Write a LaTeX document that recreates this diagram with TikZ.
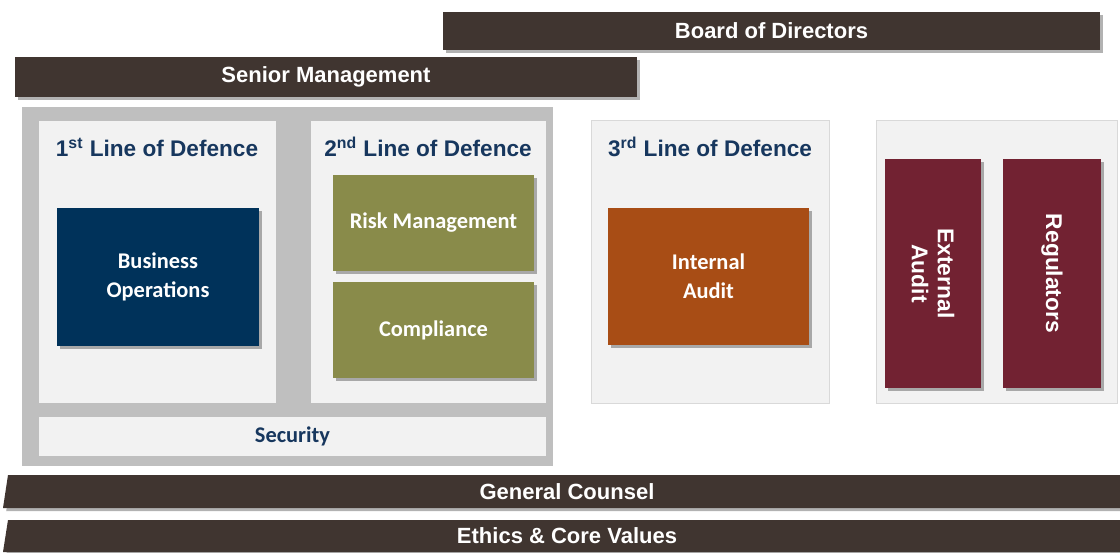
\documentclass[tikz,border=0pt]{standalone}
\usepackage{fontspec}
\setmainfont{Liberation Sans}
\newfontfamily\calibri{Carlito}
\usepackage{tikz}
\usetikzlibrary{fit,shadows}
\definecolor{barbrown}{RGB}{64,53,48}
\definecolor{framegrey}{RGB}{191,191,191}
\definecolor{panelgrey}{RGB}{242,242,242}
\definecolor{panelline}{RGB}{217,217,217}
\definecolor{headnavy}{RGB}{23,55,94}
\definecolor{opsnavy}{RGB}{0,50,90}
\definecolor{riskolive}{RGB}{137,139,74}
\definecolor{auditorange}{RGB}{168,77,21}
\definecolor{extmaroon}{RGB}{114,34,50}
\tikzset{
    softshadow/.style={drop shadow={shadow xshift=1.6pt,shadow yshift=-1.6pt,opacity=0.3,fill=black}},
    bar/.style={fill=barbrown,draw=none,inner sep=0pt,softshadow},
    bartext/.style={text=white,node font=\bfseries\fontsize{11}{13}\selectfont},
    frame/.style={fill=framegrey,draw=none,inner sep=0pt},
    panel/.style={fill=panelgrey,draw=none,inner sep=0pt},
    outpanel/.style={fill=panelgrey,draw=panelline,line width=0.4pt,inner sep=0pt},
    heading/.style={text=headnavy,node font=\bfseries\fontsize{11.3}{13}\selectfont},
    unit/.style={inner sep=0pt,draw=none,softshadow},
    unittext/.style={text=white,align=center,
        node font=\calibri\bfseries\fontsize{11.2}{14.5}\selectfont},
    vtext/.style={text=white,align=center,rotate=-90,
        node font=\bfseries\fontsize{11.4}{13}\selectfont},
}
\begin{document}
\begin{tikzpicture}[x=0.5pt,y=-0.5pt]
    \useasboundingbox (0,0) rectangle (1120,552);

    % top bars
    \node [bar,fit={(443,12) (1100,50)}] (board) {};
    \node [bartext] at (board.center) (lboard) {Board of Directors};
    \node [bar,fit={(15,57) (637,97)}] (senior) {};
    \node [bartext] at (senior.center) (lsenior) {Senior Management};

    % first and second line
    \node [frame,fit={(22,107) (553,466)}] (outer) {};
    \node [panel,fit={(39,121) (276,403)}] (first) {};
    \node [panel,fit={(311,121) (546,403)}] (second) {};
    \node [panel,fit={(39,417) (546,456)}] (security) {};
    \node [unittext,text=headnavy] at (security.center) (lsecurity) {Security};

    \node [heading] at (157,147) (hfirst) {1\textsuperscript{st} Line of Defence};
    \node [heading] at (428,147) (hsecond) {2\textsuperscript{nd} Line of Defence};

    \node [unit,fill=opsnavy,fit={(57,208) (259,346)}] (ops) {};
    \node [unittext] at (ops.center) (lops) {Business\\Operations};
    \node [unit,fill=riskolive,fit={(333,175) (534,271)}] (risk) {};
    \node [unittext] at (risk.center) (lrisk) {Risk Management};
    \node [unit,fill=riskolive,fit={(333,282) (534,378)}] (compl) {};
    \node [unittext] at (compl.center) (lcompl) {Compliance};

    % third line
    \node [outpanel,fit={(591,120) (829,403)}] (third) {};
    \node [heading] at (710,147) (hthird) {3\textsuperscript{rd} Line of Defence};
    \node [unit,fill=auditorange,fit={(608,208) (809,345)}] (intaudit) {};
    \node [unittext] at (intaudit.center) (lintaudit) {Internal\\Audit};

    % outside parties
    \node [outpanel,fit={(876,120) (1117,403)}] (outside) {};
    \node [unit,fill=extmaroon,fit={(885,159) (981,388)}] (extaudit) {};
    \node [vtext] at (extaudit.center) (lextaudit) {External\\Audit};
    \node [unit,fill=extmaroon,fit={(1003,159) (1101,388)}] (regul) {};
    \node [vtext] at (regul.center) (lregul) {Regulators};

    % bottom bars
    \path [fill=barbrown,softshadow] (8,475) -- (1120,475) -- (1120,508) -- (3,508) -- cycle;
    \node [bartext] at (567,492) (lcounsel) {General Counsel};
    \path [fill=barbrown,softshadow] (8,520) -- (1120,520) -- (1120,552) -- (3,552) -- cycle;
    \node [bartext] at (567,536) (lethics) {Ethics \& Core Values};
\end{tikzpicture}
\end{document}
